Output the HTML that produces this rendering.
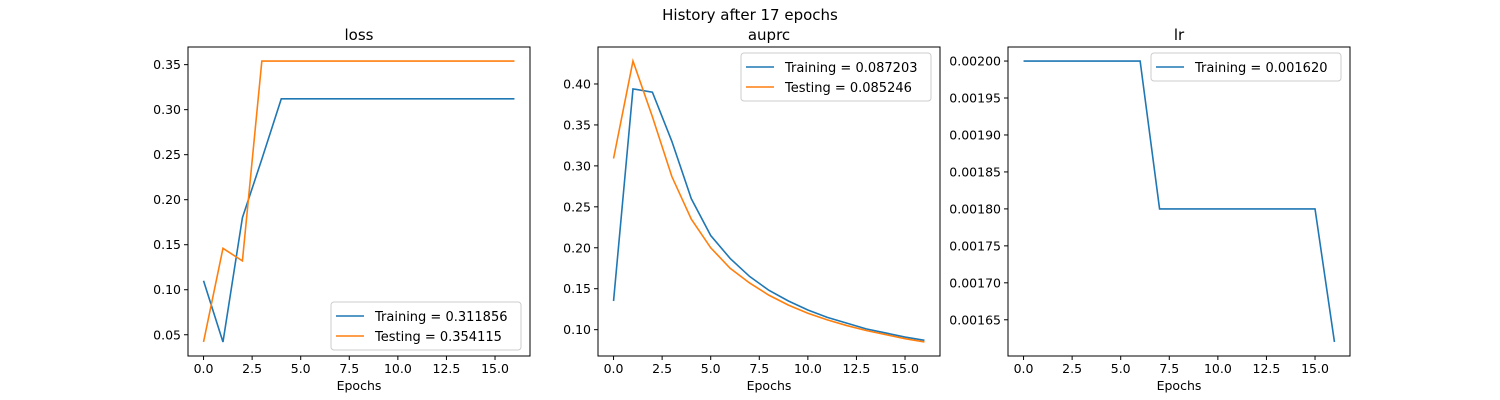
<!DOCTYPE html>
<html><head><meta charset="utf-8"><style>
body{margin:0;background:#fff;}
svg{display:block;font-family:"DejaVu Sans","Liberation Sans",sans-serif;}
</style></head><body>
<svg id="fig" width="1500" height="400">
<text x="750" y="20" text-anchor="middle" font-size="15">History after 17 epochs</text>
</svg>
<script>
const epochs = [0,1,2,3,4,5,6,7,8,9,10,11,12,13,14,15,16];
const lossTrain = [0.110,0.042,0.180,0.245,0.312,0.312,0.312,0.312,0.312,0.312,0.312,0.312,0.312,0.312,0.312,0.312,0.312];
const lossTest = [0.042,0.146,0.132,0.354,0.354,0.354,0.354,0.354,0.354,0.354,0.354,0.354,0.354,0.354,0.354,0.354,0.354];
const auprcTrain = [0.135,0.394,0.390,0.330,0.260,0.215,0.187,0.165,0.148,0.135,0.124,0.115,0.108,0.101,0.096,0.091,0.087];
const auprcTest = [0.309,0.428,0.360,0.287,0.235,0.200,0.175,0.157,0.142,0.130,0.120,0.112,0.105,0.099,0.094,0.089,0.085];
const lrTrain = [0.002,0.002,0.002,0.002,0.002,0.002,0.002,0.0018,0.0018,0.0018,0.0018,0.0018,0.0018,0.0018,0.0018,0.0018,0.00162];
const xTicks = [0,2.5,5,7.5,10,12.5,15];
const lossTicks = [0.05,0.10,0.15,0.20,0.25,0.30,0.35];
const auprcTicks = [0.10,0.15,0.20,0.25,0.30,0.35,0.40];
const lrTicks = [0.00165,0.0017,0.00175,0.0018,0.00185,0.0019,0.00195,0.002];
const lossLegend = ["Training = 0.311856","Testing = 0.354115"];
const auprcLegend = ["Training = 0.087203","Testing = 0.085246"];
const lrLegend = ["Training = 0.001620"];

const NS="http://www.w3.org/2000/svg";
const svg=document.getElementById('fig');
function mk(tag,attrs,parent){const e=document.createElementNS(NS,tag);for(const k in attrs)e.setAttribute(k,attrs[k]);(parent||svg).appendChild(e);return e;}
const colors=['#1f77b4','#ff7f0e'];

function panel(name,left,title,series,ticks,fmt,legend,legendPos){
  const L=left,R=left+342,T=47,B=356;
  const all=[].concat(...series);
  const mn=Math.min(...all),mx=Math.max(...all),pad=(mx-mn)*0.05;
  const y0=mn-pad,y1=mx+pad;
  const sx=v=>L+(v+0.8)/17.6*(R-L);
  const sy=v=>B-(v-y0)/(y1-y0)*(B-T);
  const g=mk('g',{});
  
  
  const t=mk('text',{x:(L+R)/2,y:T-7,'text-anchor':'middle','font-size':15},g);t.textContent=title;
  
  xTicks.forEach(v=>{const x=sx(v);mk('line',{x1:x,x2:x,y1:B,y2:B+4,stroke:'#000'},g);
    const tx=mk('text',{x:x,y:B+17,'text-anchor':'middle','font-size':12.5},g);tx.textContent=v.toFixed(1);
    });
  ticks.forEach(v=>{const y=sy(v);mk('line',{x1:L-4,x2:L,y1:y,y2:y,stroke:'#000'},g);
    const tx=mk('text',{x:L-7,y:y+4.5,'text-anchor':'end','font-size':12.5},g);tx.textContent=v.toFixed(fmt);
    });
  const xl=mk('text',{x:(L+R)/2,y:B+34,'text-anchor':'middle','font-size':12.5},g);xl.textContent='Epochs';
  
  series.forEach((s,i)=>{const p=mk('polyline',{points:s.map((v,j)=>sx(epochs[j])+','+sy(v)).join(' '),fill:'none',stroke:colors[i],'stroke-width':1.6},g);
    });
  mk('rect',{x:L,y:T,width:R-L,height:B-T,fill:'none',stroke:'#000','stroke-width':1},g);
  const lw=legend.length==1?190:190, lh=legend.length*20+8;
  const lx=legendPos=='br'?R-lw-9:R-lw-9, ly=legendPos=='br'?B-lh-6:T+6;
  const lg=mk('g',{},g);
  mk('rect',{x:lx,y:ly,width:lw,height:lh,rx:3,fill:'#fff','fill-opacity':0.8,stroke:'#ccc'},lg);
  legend.forEach((s,i)=>{const yy=ly+14+i*20;mk('line',{x1:lx+5,x2:lx+33,y1:yy,y2:yy,stroke:colors[i],'stroke-width':1.6},lg);
    const tx=mk('text',{x:lx+44,y:yy+5,'font-size':13},lg);tx.textContent=s;
    });
}
panel('loss',188,'loss',[lossTrain,lossTest],lossTicks,2,lossLegend,'br');
panel('auprc',598,'auprc',[auprcTrain,auprcTest],auprcTicks,2,auprcLegend,'tr');
panel('lr',1008,'lr',[lrTrain],lrTicks,5,lrLegend,'tr');
</script>
</body></html>
